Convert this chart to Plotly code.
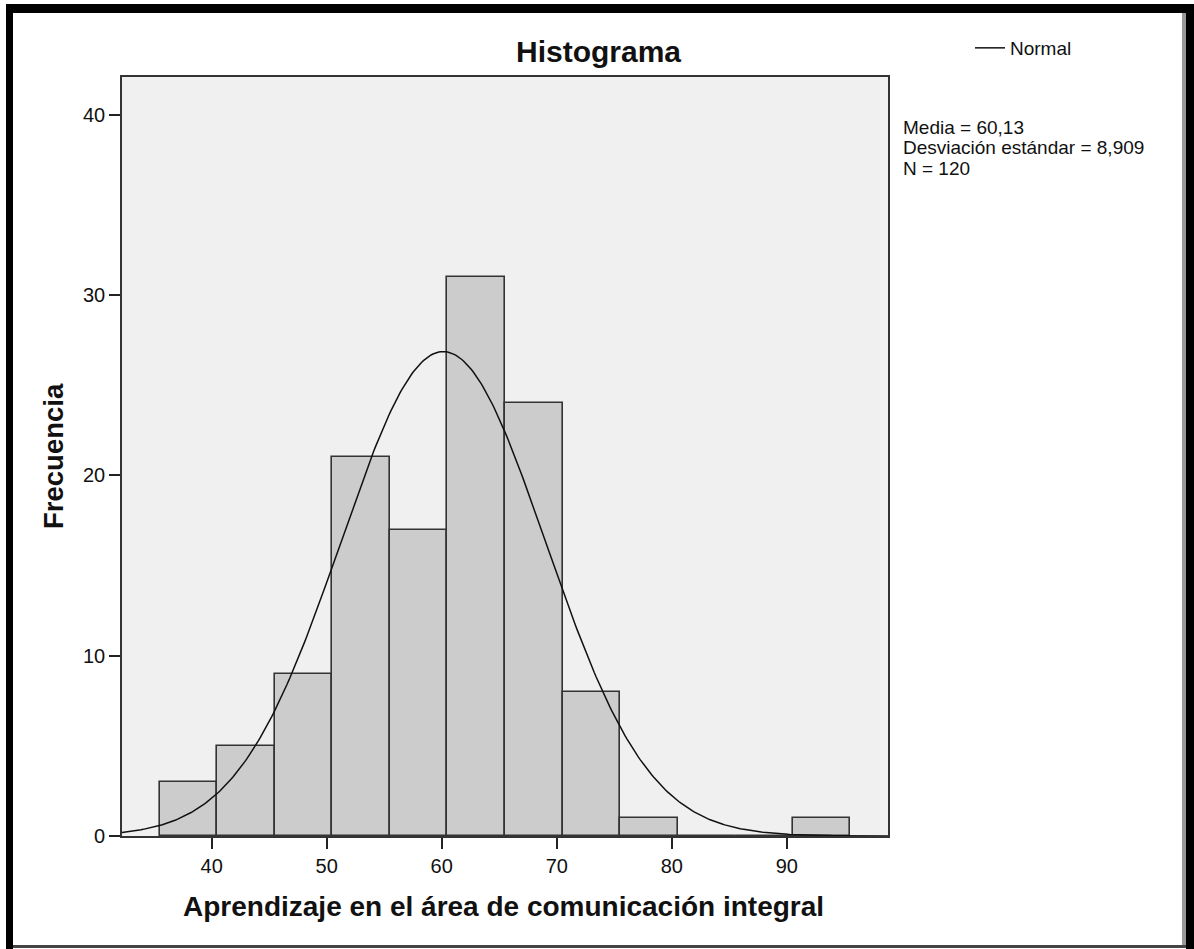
import numpy as np
import plotly.graph_objects as go

# ---- data ----
bin_centers = [38, 43, 48, 53, 58, 63, 68, 73, 78, 83, 88, 93]
counts = [3, 5, 9, 21, 17, 31, 24, 8, 1, 0, 0, 1]
bin_width = 5
MEAN = 60.13
SD = 8.909
N = 120
x_ticks = [40, 50, 60, 70, 80, 90]
y_ticks = [0, 10, 20, 30, 40]
stats_lines = ["Media = 60,13", "Desviación estándar = 8,909", "N = 120"]

X_RANGE = [32.2, 98.8]
Y_RANGE = [0, 42.1]

W, H = 1194, 949
L, R, T, B = 122, 306, 77, 113
PW, PH = W - L - R, H - T - B

def px(x):
    return (x - L) / PW

def py(y):
    return (H - B - y) / PH

FONT = "Liberation Sans, Arial, sans-serif"

# fitted normal curve (from the stated mean, sd and N)
xc = np.linspace(X_RANGE[0], X_RANGE[1], 400)
yc = N * bin_width * np.exp(-0.5 * ((xc - MEAN) / SD) ** 2) / (SD * np.sqrt(2 * np.pi))

fig = go.Figure()
fig.add_trace(go.Bar(
    x=bin_centers, y=counts, width=bin_width,
    marker=dict(color="#CCCCCC", line=dict(color="#333333", width=1.6)),
    showlegend=False, hoverinfo="skip",
))
fig.add_trace(go.Scatter(
    x=xc, y=yc, mode="lines", name="Normal",
    line=dict(color="#111111", width=1.5), showlegend=True,
))

fig.update_layout(
    width=W, height=H,
    margin=dict(l=L, r=R, t=T, b=B, autoexpand=False),
    paper_bgcolor="white", plot_bgcolor="#F0F0F0",
    font=dict(family=FONT, color="#111111", size=19),
    bargap=0,
    legend=dict(x=px(970), y=py(29), xanchor="left", yanchor="top",
                bgcolor="rgba(0,0,0,0)", borderwidth=0,
                font=dict(size=19, family=FONT), itemwidth=30, tracegroupgap=0),
    xaxis=dict(range=X_RANGE, tickvals=x_ticks, ticks="outside", ticklen=11,
               tickwidth=1.5, tickcolor="#222", showgrid=False, zeroline=False,
               showline=True, linecolor="#333", linewidth=1.6, mirror=True,
               tickfont=dict(size=20, family=FONT)),
    yaxis=dict(range=Y_RANGE, tickvals=y_ticks, ticks="outside", ticklen=11,
               tickwidth=1.5, tickcolor="#222", showgrid=False, zeroline=False,
               showline=True, linecolor="#333", linewidth=1.6, mirror=True,
               tickfont=dict(size=20, family=FONT)),
)

annotations = [
    dict(text="<b>Histograma</b>", x=px(598), y=py(52), xref="paper", yref="paper",
         showarrow=False, xanchor="center", yanchor="middle",
         font=dict(size=30, family=FONT, color="#111")),
    dict(text="<b>Aprendizaje en el área de comunicación integral</b>", x=px(503), y=py(906),
         xref="paper", yref="paper", showarrow=False, xanchor="center", yanchor="middle",
         font=dict(size=28, family=FONT, color="#111")),
    dict(text="<b>Frecuencia</b>", x=px(53), y=py(456), xref="paper", yref="paper",
         showarrow=False, xanchor="center", yanchor="middle", textangle=-90,
         font=dict(size=27.5, family=FONT, color="#111")),
]
for i, line in enumerate(stats_lines):
    annotations.append(dict(text=line, x=px(901), y=py(127 + 20.7 * i), xref="paper", yref="paper",
                            showarrow=False, xanchor="left", yanchor="middle",
                            font=dict(size=19, family=FONT, color="#111")))
fig.update_layout(annotations=annotations)

# outer frame of the picture
def prect(x0, y0, x1, y1, color):
    return dict(type="rect", xref="paper", yref="paper", x0=px(x0), x1=px(x1),
                y0=py(y0), y1=py(y1), fillcolor=color, line=dict(width=0), layer="above")

fig.update_layout(shapes=[
    prect(6, 4, 13, 949, "black"),
    prect(6, 4, 1194, 13, "black"),
    prect(1186, 4, 1194, 949, "black"),
    prect(1182, 13, 1186, 945, "#999999"),
    prect(13, 945, 1186, 948, "#444444"),
])

fig.write_html(
    "out.html",
    config={"displayModeBar": False},
    post_script="document.body.style.margin='0';document.body.style.padding='0';"
                "document.body.style.overflow='hidden';",
)
